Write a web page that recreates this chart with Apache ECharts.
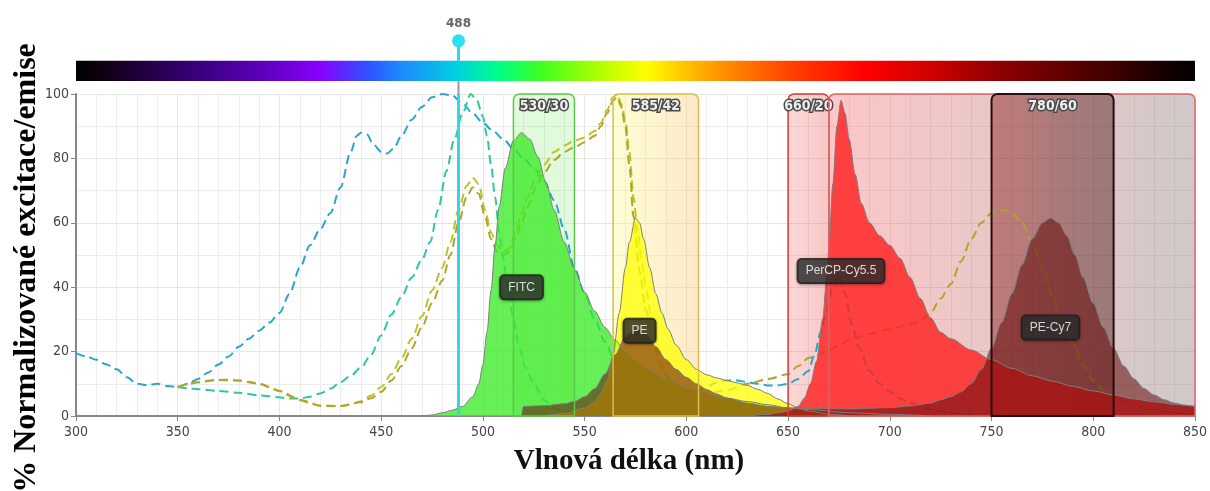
<!DOCTYPE html>
<html>
<head>
<meta charset="utf-8">
<script src="https://cdn.jsdelivr.net/npm/echarts@6/dist/echarts.min.js"></script>
<style>
  html, body { margin: 0; padding: 0; background: #fff; }
  #chart { width: 1210px; height: 491px; }
</style>
</head>
<body>
<div id="chart"></div>
<script>
// excitation spectra (dashed), [nm, %]
const percpEx = [[300,19.5],[305,18.5],[310,17.5],[315,16],[320,14.5],[325,12],[330,10],[335,9.6],[340,10],[345,9.3],[350,9],[355,10],[360,11.5],[365,13.5],[370,16],[375,18.5],[380,21.5],[385,24],[390,26.5],[395,29],[400,32],[405,38],[410,46],[415,53],[420,58],[425,63],[430,71],[435,82],[438,87],[440,88],[443,87.5],[446,84.5],[450,82],[453,81.5],[456,83],[460,87],[465,92],[470,96],[475,99],[480,100],[485,99.5],[490,97],[495,94],[500,91],[505,88.5],[510,86],[515,83],[520,80],[525,77],[530,73],[535,67],[540,58],[545,46],[550,38],[555,30],[560,23],[565,17],[570,12.5],[575,9.5],[580,8],[585,7],[590,6.5],[595,6.2],[600,6.3],[605,7.5],[610,9],[615,10.5],[620,11],[625,11],[630,10.5],[635,10],[640,9.5],[645,9.5],[650,10],[655,11.5],[660,14],[663,19],[666,26],[669,33],[672,40],[675,44],[678,38],[681,29],[685,21],[690,14],[695,10],[700,7.5],[705,5.5],[710,4],[720,2],[730,1],[740,0.5]];
const fitcEx = [[350,9],[355,8.6],[360,8.3],[370,7.8],[380,7.2],[390,6.4],[400,5.8],[405,5.4],[410,5.4],[415,6],[420,7],[425,8.5],[430,10.5],[435,12.5],[440,15],[445,19],[450,25],[455,31.5],[460,37],[465,43],[470,48.5],[474,54],[478,64],[482,76],[486,86],[490,94],[494,100],[497,98],[500,93],[502,87],[504,78],[506,68],[508,57],[510,49],[512,41],[515,30],[518,21],[521,15],[525,10],[530,5],[535,2.5],[540,1.5],[550,0.6],[560,0]];
const peEx = [[350,9],[355,9.8],[360,10.5],[365,11],[370,11.2],[375,11.3],[380,11],[385,10.6],[390,10],[395,9],[400,7.8],[405,6.2],[410,5],[415,4],[420,3.2],[425,3],[430,3.1],[435,3.6],[440,4.6],[445,6.3],[450,9],[455,13],[460,18],[465,24],[470,31],[475,39],[480,46],[484,54],[488,64],[492,71.5],[495,74],[498,72],[501,64],[504,57],[507,53],[510,51],[513,52],[516,57],[519,63],[522,68],[526,74],[530,78],[535,82],[540,84],[545,85.5],[550,86.5],[555,88.5],[558,91],[561,95],[564,99],[566,100],[568,97],[570,92],[572,82],[574,68],[576,58],[578,48],[580,40],[583,30],[586,21],[590,13],[595,7],[600,4],[605,2.5],[610,1.5],[620,1],[630,0.5]];
const pecy7Ex = [[350,9],[360,10.5],[370,11.2],[380,11],[390,10],[400,7.8],[410,5],[420,3.2],[430,3.1],[440,4.3],[445,5.5],[450,7.5],[455,11],[460,15.5],[465,21],[470,27.5],[475,35],[480,42],[484,50],[488,60],[492,68],[495,71],[498,69],[501,62],[504,55],[507,51],[510,50],[513,51],[516,55],[519,60],[522,65],[526,71],[530,75.5],[535,79.5],[540,82],[545,83.5],[550,85],[555,87],[558,90],[561,94],[564,98],[566,99],[568,96],[570,90],[572,78],[574,62],[577,45],[580,33],[584,22],[588,15],[592,11],[596,9],[600,8],[605,7.2],[610,7],[620,8],[630,10],[640,11.5],[650,13],[655,15.5],[660,18],[665,19],[670,20.5],[675,22],[680,23.5],[690,25.5],[700,27],[710,28.5],[715,29.5],[720,32],[725,36.5],[730,41],[735,48],[740,55],[745,60],[750,63],[756,64],[760,63],[765,60],[770,54],[775,46],[780,37],[785,29],[790,22.5],[795,16],[800,11],[805,8],[810,6],[815,4.5],[820,3.5],[830,2],[840,1],[850,0.5]];

// emission spectra (filled), [nm, %]
const fitcEm = [[470,0],[475,0.3],[480,1],[485,1.8],[490,3],[495,6],[498,10],[500,16],[502,26],[504,39],[506,53],[508,65],[511,77],[515,85.5],[519,88],[523,86],[527,80.5],[531,72.5],[535,64],[540,54],[545,45.5],[550,38.5],[555,32.5],[560,27.5],[565,23.5],[570,20],[575,17.5],[580,15],[590,11.5],[600,9],[610,7],[620,5.5],[630,4.5],[640,3.5],[650,2.5],[660,2],[680,1],[700,0.5],[720,0]];
const peEm = [[530,0],[540,0.8],[550,2.5],[555,4.5],[558,7],[561,11],[564,19],[567,32],[570,46],[572,54],[575,61.5],[577,60],[579,55],[582,46],[585,38],[588,32],[591,27],[595,22],[600,17.5],[605,14.5],[610,12.8],[615,11.8],[620,11],[625,10.3],[630,9.5],[635,8.3],[640,7],[645,5.3],[650,3.8],[655,2.5],[660,1.5],[670,0.6],[680,0]];
const percpEm = [[630,0],[640,0.5],[645,1],[650,1.5],[655,3],[658,5.5],[661,10],[664,17],[667,30],[669,43],[670,52],[672,72],[674,90],[676,98],[678,94],[680,86],[683,75],[686,66],[690,60],[695,56],[700,53],[705,49],[710,43],[715,36.5],[720,30.5],[725,26],[730,24],[740,20.5],[750,17.5],[760,14.8],[770,12.5],[780,10.8],[790,9.2],[800,7.8],[810,6.5],[820,5.3],[830,4.4],[840,3.6],[850,3]];
const pecy7Em = [[519,0],[520,3],[530,3.2],[540,3.8],[545,4.5],[550,6],[555,8.5],[560,13],[565,19],[570,24.5],[575,27],[580,25.5],[585,21.5],[590,17.5],[595,14.5],[600,12],[605,10],[610,8.2],[615,6.8],[620,5.6],[630,4],[640,3],[650,2.5],[660,2.3],[680,2.2],[700,2.6],[710,3.1],[720,4],[725,5],[730,6],[735,7.5],[740,10],[745,14.5],[750,21],[755,29],[760,38],[765,47],[770,55],[775,60],[779,61.5],[783,60],[787,56],[791,50],[795,43],[800,35],[805,27.5],[810,21],[815,15.5],[820,11.5],[825,8.5],[830,6.5],[835,5],[840,4],[845,3.3],[850,3]];

// filters
const filterNames = ['530/30', '585/42', '660/20', '', '780/60'];
const filterFrom = [515, 564, 650, 670, 750];
const filterTo = [545, 606, 670, 850, 810];

// dye labels
const dyeNames = ['FITC', 'PE', 'PerCP-Cy5.5', 'PE-Cy7'];
const dyeLabelNm = [519, 577, 676, 779];
const dyeLabelY = [40, 26.5, 45, 27.5];

const laserNm = [488];

// colour bar along the top
const specNm = [300, 312, 361, 394, 420, 443, 459, 487, 508, 529, 557, 580, 606, 631, 655, 688, 720, 753, 786, 819, 850];
const specColor = ['#000000', '#100010', '#3a0080', '#6000c0', '#8a00ff', '#3050ff', '#1e88ff', '#00d0e0', '#00ff88', '#40ff20', '#b0ff00', '#ffff00', '#ffb000', '#ff7000', '#ff3a00', '#ff0000', '#d00000', '#900000', '#600000', '#300000', '#000000'];

const lg = (a, b) => new echarts.graphic.LinearGradient(0, 0, 1, 0, [{offset: 0, color: a}, {offset: 1, color: b}]);
const filterFill = [
  lg('rgba(110,230,80,0.2)', 'rgba(110,230,80,0.2)'),
  lg('rgba(255,250,110,0.3)', 'rgba(248,190,100,0.35)'),
  lg('rgba(240,100,90,0.25)', 'rgba(235,80,80,0.32)'),
  lg('rgba(245,70,70,0.3)', 'rgba(120,100,100,0.35)'),
  lg('rgba(140,30,30,0.45)', 'rgba(75,25,25,0.45)')
];
const filterStroke = ['#5cc84a', '#d6c04a', '#d93a3a', '#e06464', '#2a0a0a'];
const filterWidth = [1.5, 1.5, 1.5, 1.5, 2];

const BAR_BOTTOM = 104, BAR_TOP = 110.3, LASER_TOP = 116.5;

const chart = echarts.init(document.getElementById('chart'));

function filterItem(withFill) {
  return function (params, api) {
    const i = api.value(2);
    const a = api.coord([api.value(0), 100]);
    const b = api.coord([api.value(1), 0]);
    const shape = {x: a[0], y: a[1], width: b[0] - a[0], height: b[1] - a[1], r: [6, 6, 0, 0]};
    if (withFill) return {type: 'rect', shape, style: {fill: filterFill[i]}, silent: true};
    return {type: 'group', children: [
      {type: 'rect', shape, style: {fill: 'none', stroke: filterStroke[i], lineWidth: filterWidth[i]}},
      {type: 'text', x: (a[0] + b[0]) / 2, y: a[1] + 5, style: {
        text: filterNames[i], align: 'center', verticalAlign: 'top',
        fontFamily: '"Liberation Sans Narrow", "DejaVu Sans Condensed", sans-serif',
        fontSize: 14, fontWeight: 'bold', fill: '#eeeeee', stroke: '#4a4a4a', lineWidth: 3
      }}
    ]};
  };
}

const filterData = filterFrom.map((f, i) => [f, filterTo[i], i]);
const dashed = (data, color) => ({
  type: 'line', data, z: 2, showSymbol: false, smooth: 0.3, smoothMonotone: 'x',
  lineStyle: {color, width: 2, type: [9, 5]}
});
const filled = (data, color) => ({
  type: 'line', data, z: 3, showSymbol: false, smooth: 0.3, smoothMonotone: 'x',
  lineStyle: {color: '#7d7d7d', width: 1},
  areaStyle: {color, opacity: 1}
});

chart.setOption({
  animation: false,
  grid: {left: 76, right: 13, top: 94, bottom: 75},
  xAxis: {
    type: 'value', min: 300, max: 850, interval: 50,
    axisLine: {lineStyle: {color: '#888', width: 2}},
    axisTick: {show: true, length: 5, lineStyle: {color: '#888'}},
    axisLabel: {color: '#444', fontSize: 14, margin: 9, fontFamily: '"Liberation Sans Narrow", "DejaVu Sans Condensed", sans-serif'},
    splitLine: {show: true, lineStyle: {color: '#e6e6e6'}},
    minorTick: {show: true, splitNumber: 5, length: 0},
    minorSplitLine: {show: true, lineStyle: {color: '#ececec'}}
  },
  yAxis: {
    type: 'value', min: 0, max: 100, interval: 20,
    axisLine: {show: true, lineStyle: {color: '#888', width: 2}},
    axisTick: {show: true, length: 5, lineStyle: {color: '#888'}},
    axisLabel: {color: '#444', fontSize: 14, margin: 7, fontFamily: '"Liberation Sans Narrow", "DejaVu Sans Condensed", sans-serif'},
    splitLine: {show: true, lineStyle: {color: '#e6e6e6'}},
    minorTick: {show: true, splitNumber: 2, length: 0},
    minorSplitLine: {show: true, lineStyle: {color: '#ececec'}}
  },
  graphic: [
    {type: 'text', x: 27, y: 268, rotation: Math.PI / 2, style: {
      text: '% Normalizované excitace/emise', align: 'center', verticalAlign: 'middle',
      fontFamily: '"Liberation Serif", "Times New Roman", serif', fontWeight: 'bold', fontSize: 32, fill: '#000'
    }},
    {type: 'text', x: 629, y: 462, style: {
      text: 'Vlnová délka (nm)', align: 'center', verticalAlign: 'middle',
      fontFamily: '"Liberation Serif", "Times New Roman", serif', fontWeight: 'bold', fontSize: 29, fill: '#111'
    }}
  ],
  series: [
    {type: 'custom', z: 1, data: filterData, renderItem: filterItem(true), silent: true},
    dashed(percpEx, '#2aa6cc'),
    dashed(fitcEx, '#2cc8a0'),
    dashed(peEx, '#b8c42a'),
    dashed(pecy7Ex, '#b0a42c'),
    filled(fitcEm, 'rgba(60,235,40,0.78)'),
    filled(peEm, 'rgba(255,255,0,0.75)'),
    filled(percpEm, 'rgba(255,30,30,0.8)'),
    filled(pecy7Em, 'rgba(100,10,10,0.55)'),
    {type: 'custom', z: 4, data: filterData, renderItem: filterItem(false), silent: true},
    {
      type: 'custom', z: 5, clip: false, silent: true, data: [[specNm[0], specNm[specNm.length - 1]]],
      renderItem: (params, api) => {
        const a = api.coord([api.value(0), BAR_TOP]);
        const b = api.coord([api.value(1), BAR_BOTTOM]);
        const lo = specNm[0], span = specNm[specNm.length - 1] - lo;
        return {type: 'rect', shape: {x: a[0], y: a[1], width: b[0] - a[0], height: b[1] - a[1]},
          style: {fill: new echarts.graphic.LinearGradient(0, 0, 1, 0,
            specNm.map((n, i) => ({offset: (n - lo) / span, color: specColor[i]})))}};
      }
    },
    {
      type: 'custom', z: 6, clip: false, silent: true, data: laserNm.map(n => [n]),
      renderItem: (params, api) => {
        const x = api.value(0);
        const p0 = api.coord([x, 0]), p1 = api.coord([x, 100]);
        const p2 = api.coord([x, BAR_BOTTOM]), p3 = api.coord([x, BAR_TOP]), p4 = api.coord([x, LASER_TOP]);
        const seg = (u, v, color, w) => ({type: 'line', shape: {x1: u[0], y1: u[1], x2: v[0], y2: v[1]}, style: {stroke: color, lineWidth: w}});
        return {type: 'group', children: [
          seg(p0, p1, '#36d4e6', 3),
          seg(p1, p2, '#999', 2),
          seg(p3, p4, '#36d4e6', 3),
          {type: 'circle', shape: {cx: p4[0], cy: p4[1], r: 6.5}, style: {fill: '#2fdff0'}},
          {type: 'text', x: p4[0], y: p4[1] - 11, style: {text: String(x), align: 'center', verticalAlign: 'bottom',
            fontFamily: '"DejaVu Sans", sans-serif', fontWeight: 'bold', fontSize: 12, fill: '#666'}}
        ]};
      }
    },
    {
      type: 'scatter', z: 7, silent: true, symbolSize: 1, itemStyle: {color: 'rgba(0,0,0,0)'},
      data: dyeNames.map((n, i) => ({name: n, value: [dyeLabelNm[i], dyeLabelY[i]]})),
      label: {
        show: true, position: 'inside', formatter: '{b}', color: '#fff', fontSize: 12,
        fontFamily: '"Liberation Sans", Arial, sans-serif',
        backgroundColor: 'rgba(45,45,45,0.93)', borderColor: '#1a1a1a', borderWidth: 1, borderRadius: 4,
        padding: [6, 8], shadowBlur: 3, shadowColor: 'rgba(0,0,0,0.4)', shadowOffsetY: 1
      }
    }
  ]
});
</script>
</body>
</html>
